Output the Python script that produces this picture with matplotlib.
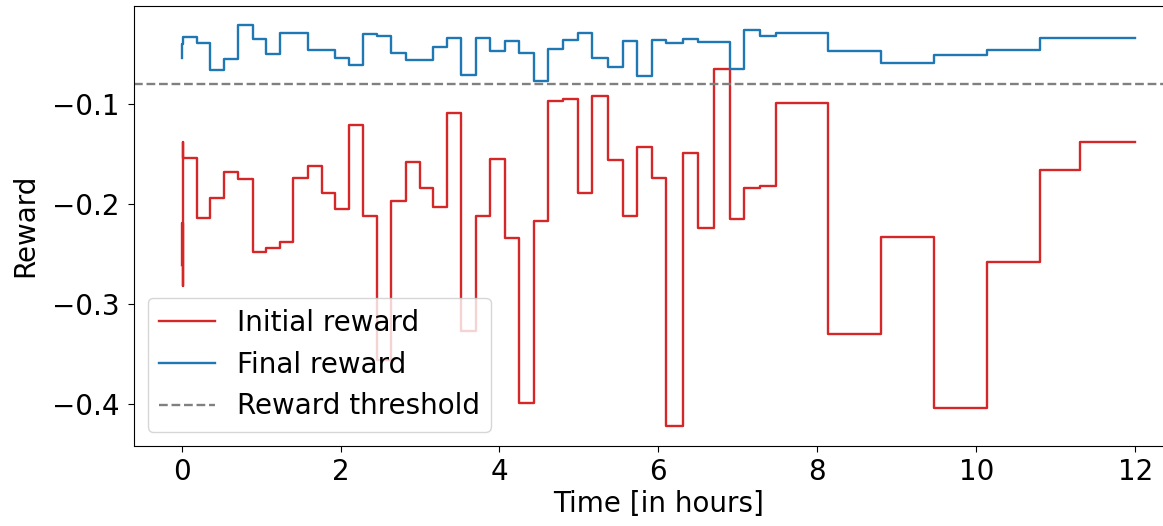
import matplotlib
matplotlib.use('Agg')
from matplotlib import pyplot as plt

# step times (hours) shared by both series
TIMES = [0.0, 0.003, 0.012, 0.015, 0.02, 0.188, 0.356, 0.537, 0.713, 0.893,
         1.061, 1.237, 1.405, 1.594, 1.76, 1.93, 2.11, 2.28, 2.455, 2.63,
         2.82, 3.0, 3.167, 3.335, 3.52, 3.70, 3.88, 4.07, 4.246, 4.43,
         4.615, 4.80, 4.99, 5.17, 5.37, 5.55, 5.73, 5.915, 6.10, 6.31,
         6.50, 6.70, 6.90, 7.08, 7.28, 7.48, 8.14, 8.80, 9.47, 10.13,
         10.80, 11.31, 12.0]

INITIAL = [-0.261, -0.219, -0.282, -0.138, -0.1537, -0.214, -0.194, -0.1673, -0.1747, -0.2473,
           -0.244, -0.238, -0.1733, -0.1617, -0.1887, -0.2047, -0.1207, -0.2117, -0.3555, -0.1967,
           -0.1573, -0.184, -0.2032, -0.109, -0.327, -0.2120, -0.155, -0.234, -0.3984, -0.2167,
           -0.0965, -0.0943, -0.1888, -0.0922, -0.1557, -0.2117, -0.1427, -0.1738, -0.4214, -0.1487,
           -0.2242, -0.0643, -0.215, -0.184, -0.1815, -0.0988, -0.3293, -0.2332, -0.404, -0.2582,
           -0.1655, -0.138, -0.138]

FINAL = [-0.054, -0.040, -0.035, -0.034, -0.0324, -0.0383, -0.0657, -0.055, -0.0205, -0.035,
         -0.050, -0.029, -0.0283, -0.0457, -0.0457, -0.0533, -0.0607, -0.030, -0.0317, -0.0483,
         -0.056, -0.056, -0.0424, -0.034, -0.0707, -0.0333, -0.0467, -0.0367, -0.049, -0.0765,
         -0.0452, -0.0355, -0.0284, -0.0537, -0.0627, -0.0368, -0.0715, -0.0362, -0.0387, -0.0350,
         -0.0373, -0.0373, -0.0647, -0.0262, -0.0315, -0.0292, -0.0470, -0.0590, -0.0507, -0.0455,
         -0.0340, -0.0334, -0.0334]

THRESHOLD = -0.08

plt.rcParams['font.size'] = 20
plt.rcParams['xtick.major.size'] = 4.2
plt.rcParams['ytick.major.size'] = 4.2
plt.rcParams['xtick.major.pad'] = 5
plt.rcParams['ytick.major.pad'] = 6

fig = plt.figure(figsize=(11.63, 5.26), dpi=100)
ax = fig.add_axes([134.0 / 1163, (526 - 445.5) / 526,
                   (1182.8 - 134.0) / 1163, (445.5 - 6.0) / 526])

ax.step(TIMES, INITIAL, where='post', color='tab:red', linewidth=1.7,
        label='Initial reward')
ax.step(TIMES, FINAL, where='post', color='tab:blue', linewidth=1.7,
        label='Final reward')
ax.axhline(THRESHOLD, color='gray', linestyle='--', linewidth=1.7,
           label='Reward threshold')

ax.set_xlim(-0.6, 12.6)
ax.set_ylim(-0.4412, -0.0017)
ax.set_xticks([0, 2, 4, 6, 8, 10, 12])
ax.set_yticks([-0.4, -0.3, -0.2, -0.1])
ax.set_xlabel('Time [in hours]', labelpad=3)
ax.set_ylabel('Reward', labelpad=9)
ax.legend(loc='lower left')

fig.savefig('out.png', dpi=100)
